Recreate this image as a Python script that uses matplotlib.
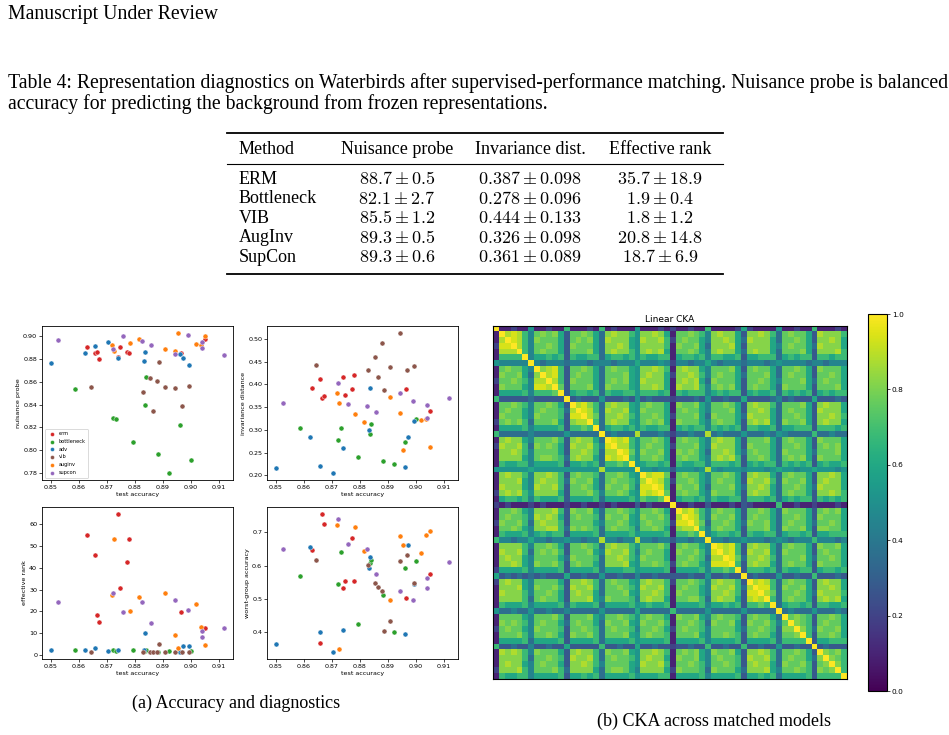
import numpy as np
import matplotlib
matplotlib.use("Agg")
import matplotlib.pyplot as plt

W, H = 949, 735
plt.rcParams["mathtext.fontset"] = "cm"
SERIF = "Liberation Serif"

# ---- table 4 ----
table_methods = ["ERM", "Bottleneck", "VIB", "AugInv", "SupCon"]
nuis_mean = [88.7, 82.1, 85.5, 89.3, 89.3]
nuis_std = [0.5, 2.7, 1.2, 0.5, 0.6]
inv_mean = [0.387, 0.278, 0.444, 0.326, 0.361]
inv_std = [0.098, 0.096, 0.133, 0.098, 0.089]
rank_mean = [35.7, 1.9, 1.8, 20.8, 18.7]
rank_std = [18.9, 0.4, 1.2, 14.8, 6.9]
table_header = ["Method", "Nuisance probe", "Invariance dist.", "Effective rank"]

# ---- scatter data (one point per trained model) ----
methods = ["erm", "bottleneck", "adv", "vib", "auginv", "supcon"]
method_colors = ["#d62728", "#2ca02c", "#1f77b4", "#8c564b", "#ff7f0e", "#9467bd"]

test_acc = {
    "erm": [0.8631, 0.8658, 0.8664, 0.8672, 0.8740, 0.8746, 0.8773, 0.8780, 0.8964, 0.9051],
    "bottleneck": [0.8588, 0.8722, 0.8733, 0.8793, 0.8835, 0.8840, 0.8882, 0.8924, 0.8960, 0.9001],
    "adv": [0.8500, 0.8624, 0.8658, 0.8705, 0.8740, 0.8833, 0.8837, 0.8960, 0.8974, 0.8993],
    "vib": [0.8643, 0.8828, 0.8854, 0.8866, 0.8878, 0.8886, 0.8908, 0.8944, 0.8968, 0.8995],
    "auginv": [0.8720, 0.8726, 0.8784, 0.8815, 0.8909, 0.8945, 0.8955, 0.9020, 0.9038, 0.9051],
    "supcon": [0.8526, 0.8722, 0.8759, 0.8827, 0.8859, 0.8944, 0.8990, 0.9039, 0.9040, 0.9120],
}
nuisance_probe = {
    "erm": [0.8909, 0.8850, 0.8865, 0.8803, 0.8818, 0.8909, 0.8859, 0.8850, 0.8850, 0.8976],
    "bottleneck": [0.8535, 0.8285, 0.8274, 0.8074, 0.8400, 0.8647, 0.7971, 0.7800, 0.8218, 0.7918],
    "adv": [0.8765, 0.8853, 0.8918, 0.8947, 0.8806, 0.8785, 0.8859, 0.8841, 0.8806, 0.8744],
    "vib": [0.8553, 0.8515, 0.8635, 0.8347, 0.8609, 0.8771, 0.8553, 0.8550, 0.8388, 0.8562],
    "auginv": [0.8924, 0.8868, 0.8938, 0.8974, 0.8888, 0.8871, 0.9029, 0.8929, 0.8926, 0.9003],
    "supcon": [0.8971, 0.8891, 0.9000, 0.8956, 0.8924, 0.8844, 0.9012, 0.8947, 0.8900, 0.8832],
}
invariance_dist = {
    "erm": [0.391, 0.411, 0.371, 0.374, 0.416, 0.376, 0.389, 0.420, 0.389, 0.342],
    "bottleneck": [0.303, 0.278, 0.304, 0.240, 0.290, 0.313, 0.232, 0.224, 0.274, 0.324],
    "adv": [0.215, 0.285, 0.221, 0.205, 0.259, 0.299, 0.392, 0.219, 0.285, 0.320],
    "vib": [0.443, 0.432, 0.460, 0.416, 0.491, 0.387, 0.438, 0.513, 0.431, 0.440],
    "auginv": [0.380, 0.359, 0.334, 0.318, 0.372, 0.337, 0.256, 0.321, 0.324, 0.262],
    "supcon": [0.359, 0.404, 0.356, 0.353, 0.340, 0.381, 0.363, 0.354, 0.327, 0.371],
}
effective_rank = {
    "erm": [54.8, 45.9, 18.3, 15.3, 64.7, 30.9, 42.6, 53.3, 19.5, 12.3],
    "bottleneck": [2.4, 2.2, 1.6, 2.1, 1.9, 2.3, 1.5, 1.6, 1.3, 2.0],
    "adv": [2.3, 2.3, 3.2, 1.8, 2.3, 2.3, 10.0, 1.5, 3.9, 3.9],
    "vib": [1.4, 1.4, 1.4, 1.4, 1.4, 5.0, 1.4, 1.4, 1.4, 1.4],
    "auginv": [27.3, 53.2, 20.3, 26.5, 28.6, 9.1, 3.3, 23.5, 12.7, 4.5],
    "supcon": [24.2, 28.2, 19.5, 24.2, 14.7, 25.3, 20.5, 10.8, 8.0, 12.3],
}
worst_group = {
    "erm": [0.647, 0.365, 0.756, 0.727, 0.533, 0.553, 0.682, 0.555, 0.502, 0.575],
    "bottleneck": [0.570, 0.544, 0.640, 0.423, 0.609, 0.616, 0.510, 0.400, 0.592, 0.614],
    "adv": [0.364, 0.657, 0.400, 0.339, 0.407, 0.594, 0.626, 0.394, 0.661, 0.545],
    "vib": [0.617, 0.602, 0.549, 0.536, 0.522, 0.404, 0.434, 0.614, 0.632, 0.548],
    "auginv": [0.723, 0.347, 0.715, 0.644, 0.497, 0.688, 0.662, 0.637, 0.691, 0.704],
    "supcon": [0.650, 0.740, 0.664, 0.650, 0.575, 0.522, 0.496, 0.563, 0.531, 0.612],
}

# ---- linear CKA between the 60 matched models ----
# upper triangle, row i holds columns i..59; one character per cell
cka_levels = dict(zip("0123456789abc",
                      [0.10, 0.20, 0.28, 0.36, 0.45, 0.52, 0.60, 0.68, 0.76, 0.82, 0.88, 0.94, 1.0]))
cka_rows = [
    "c00100 500100 700010 701000 500010 100100 700001 610000 500100 700010",
    "caba7 489896 288986 39a997 599a96 088987 49a996 299a97 389886 2a9997",
    "cba7 498886 289896 3a9996 5a99a7 189886 499a96 3a9996 388986 299a96",
    "ca7 488986 298886 399a96 599997 098896 3999a6 299996 489886 3a9996",
    "c7 489886 288896 39a997 59a9a6 088986 49a996 39a996 388896 2999a7",
    "c 466767 276677 367767 576677 067767 477667 266777 367677 277677",
    "c43444 344434 443444 644454 144344 643444 344434 544443 443444",
    "c9ab7 288986 389886 599a97 09a996 488896 289886 388986 298886",
    "cab7 289886 388896 59a996 199a97 489886 388896 389886 288986",
    "ca7 298886 389896 5a9996 09a9a6 398886 288986 488896 389886",
    "c8 288896 398886 599a96 0a99a7 489896 289886 398886 288896",
    "c 267767 376677 577767 076777 467677 267667 376767 267677",
    "c23222 522232 523222 122232 522322 622223 423222 622232",
    "cab97 39a996 589886 098896 488986 29a997 388896 29a996",
    "cba7 3a99a6 598886 089886 488896 299a96 389886 2a9996",
    "ca8 399a97 588986 188896 398886 3a9996 388986 299a97",
    "c7 39a996 589896 098886 489886 29a9a6 398896 29a996",
    "c 367767 576677 067677 476767 277667 366777 277767",
    "c34333 a33343 133433 a34333 533343 543333 733433",
    "cbab7 588986 089886 49a996 288896 389886 298886",
    "caa7 589886 188896 4a9996 298886 388986 289896",
    "cb8 598896 098986 399a96 389886 398886 388896",
    "c7 588986 089886 49a9a7 288986 389896 298886",
    "c 567767 076677 477767 267677 376767 267667",
    "c55455 255545 a54555 455545 655455 655545",
    "cabb8 089886 488986 29a996 389886 299a96",
    "cba7 188986 489886 2a99a7 398896 29a996",
    "cb7 098896 388896 399a96 388986 3a9996",
    "c8 089886 498886 29a996 389886 299a97",
    "c 067767 476677 277767 367677 276767",
    "c00100 200010 210000 700100 100010",
    "cab97 489886 288986 398886 289896",
    "cba7 498896 289886 388986 298886",
    "ca8 388986 398896 389886 388986",
    "c7 489886 288896 398896 299886",
    "c 467767 276677 367767 266777",
    "c44344 544434 543444 744434",
    "cbab7 29a996 389886 298896",
    "cab7 2a99a6 398886 289886",
    "cb8 399a97 388896 388986",
    "c7 29a996 389886 298886",
    "c 277767 376677 267767",
    "c23222 522322 722232",
    "caba7 389886 29a996",
    "cbb7 398896 299a96",
    "ca8 388986 3a9997",
    "c7 389886 29a9a6",
    "c 367767 277667",
    "c34333 533343",
    "c8987 288986",
    "c987 289886",
    "c97 398896",
    "c7 288986",
    "c 266777",
    "c23222",
    "c9897",
    "c987",
    "c97",
    "c7",
    "c",
]
n_models = len(cka_rows)
cka = np.zeros((n_models, n_models))
for i, row in enumerate(cka_rows):
    vals = [cka_levels[ch] for ch in row.replace(" ", "")]
    cka[i, i:] = vals
    cka[i:, i] = vals


def px_box(x0, y0, x1, y1):
    # pixel box (top-left origin) -> figure fraction rect
    return [x0 / W, 1 - y1 / H, (x1 - x0) / W, (y1 - y0) / H]


fig = plt.figure(figsize=(W / 100, H / 100), dpi=100)

# page overlay in pixel coordinates for header, caption and table
page = fig.add_axes([0, 0, 1, 1])
page.set_xlim(0, W)
page.set_ylim(H, 0)
page.axis("off")

page.text(8, 14, "Manuscript Under Review", family=SERIF, fontsize=14.2, va="center")
page.text(8, 83, "Table 4: Representation diagnostics on Waterbirds after supervised-performance matching. "
          "Nuisance probe is balanced", family=SERIF, fontsize=14.2, va="center")
page.text(8, 104, "accuracy for predicting the background from frozen representations.",
          family=SERIF, fontsize=14.2, va="center")

col_x = [239, 397, 530, 660]
page.plot([227, 723], [133, 133], color="black", lw=1.3)
page.plot([227, 723], [164, 164], color="black", lw=0.8)
page.plot([227, 723], [274, 274], color="black", lw=1.3)
for j, h in enumerate(table_header):
    page.text(col_x[j], 149, h, family=SERIF, fontsize=13, va="center",
              ha="left" if j == 0 else "center")
row_y = [179, 198.5, 218, 237.5, 257]
for i, name in enumerate(table_methods):
    y = row_y[i]
    page.text(col_x[0], y, name, family=SERIF, fontsize=13, va="center", ha="left")
    page.text(col_x[1], y, rf"${nuis_mean[i]:.1f} \pm {nuis_std[i]:.1f}$", fontsize=13, va="center", ha="center")
    page.text(col_x[2], y, rf"${inv_mean[i]:.3f} \pm {inv_std[i]:.3f}$", fontsize=13, va="center", ha="center")
    page.text(col_x[3], y, rf"${rank_mean[i]:.1f} \pm {rank_std[i]:.1f}$", fontsize=13, va="center", ha="center")

page.text(236, 703, "(a) Accuracy and diagnostics", family=SERIF, fontsize=13, va="center", ha="center")
page.text(714, 721, "(b) CKA across matched models", family=SERIF, fontsize=13, va="center", ha="center")

# ---- four scatter panels ----
panels = [
    (px_box(42, 326, 233, 480), nuisance_probe, "nuisance probe"),
    (px_box(267, 326, 458, 480), invariance_dist, "invariance distance"),
    (px_box(42, 507, 233, 659), effective_rank, "effective rank"),
    (px_box(267, 507, 458, 659), worst_group, "worst-group accuracy"),
]
for k, (rect, metric, ylabel) in enumerate(panels):
    ax = fig.add_axes(rect)
    for m, c in zip(methods, method_colors):
        ax.scatter(test_acc[m], metric[m], s=13, color=c, edgecolors="white",
                   linewidths=0.3, label=m, zorder=3)
    ax.set_xlabel("test accuracy", fontsize=4.6, labelpad=1.5)
    ax.set_ylabel(ylabel, fontsize=4.6, labelpad=1.5)
    ax.tick_params(labelsize=4.6, length=2, width=0.5, pad=1.5)
    for sp in ax.spines.values():
        sp.set_linewidth(0.6)
    if k == 0:
        ax.legend(loc="lower left", fontsize=3.6, markerscale=0.8, handletextpad=0.3,
                  borderpad=0.5, labelspacing=0.55, frameon=True, framealpha=1,
                  edgecolor="#cccccc").get_frame().set_linewidth(0.5)

# ---- CKA heatmap ----
hax = fig.add_axes(px_box(493, 326, 847, 679))
im = hax.imshow(cka, cmap="viridis", vmin=0, vmax=1, aspect="auto", interpolation="nearest")
hax.set_xticks([])
hax.set_yticks([])
for sp in hax.spines.values():
    sp.set_linewidth(0.8)
hax.set_title("Linear CKA", fontsize=6.5, pad=3)

cax = fig.add_axes(px_box(868, 314, 887, 691))
cb = fig.colorbar(im, cax=cax, ticks=[0.0, 0.2, 0.4, 0.6, 0.8, 1.0])
cb.ax.tick_params(labelsize=5.3, length=2, width=0.5, pad=1.5)
cb.outline.set_linewidth(0.8)

fig.savefig("out.png", dpi=100)
